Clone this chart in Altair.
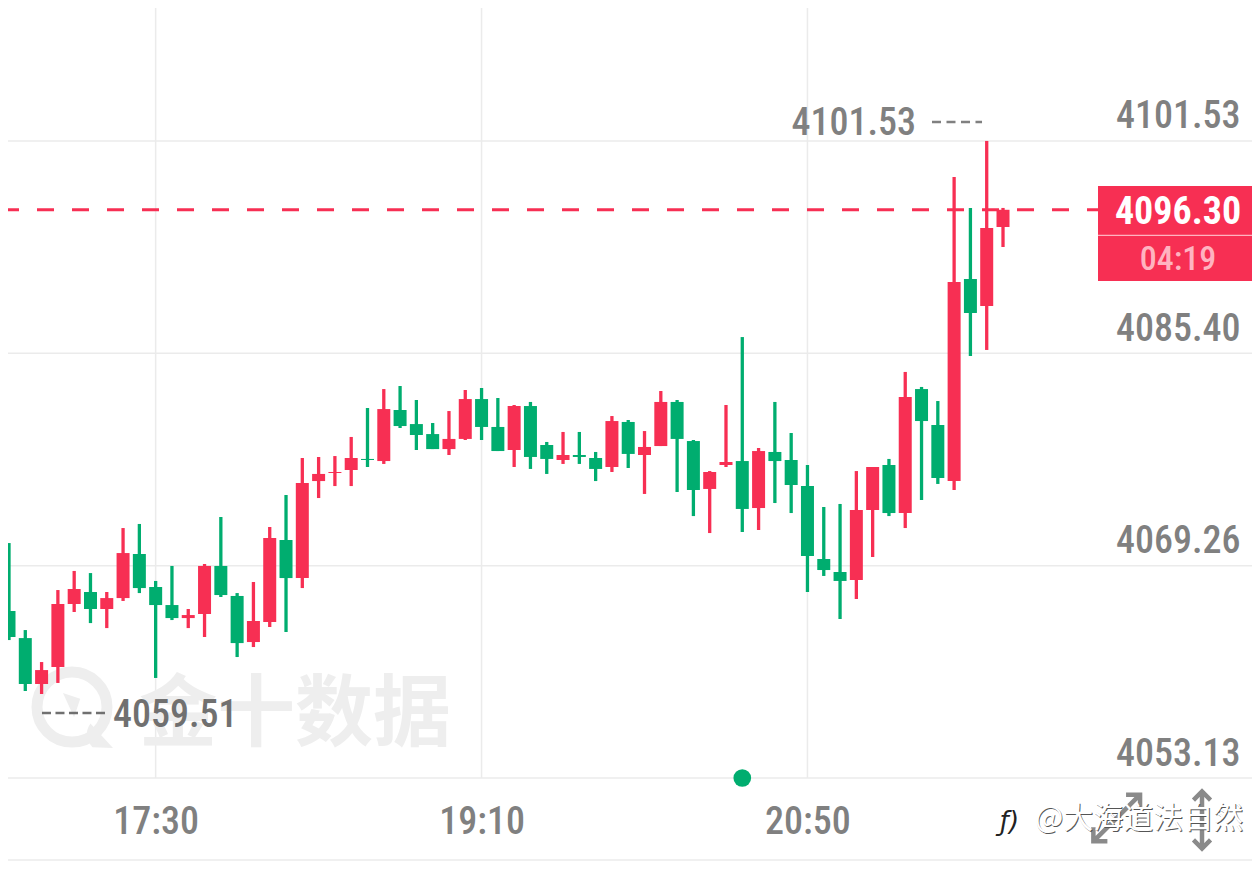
import altair as alt
import pandas as pd

open_ = [4065.82,4063.76,4060.27,4061.56,4066.35,4067.26,4065.97,4066.80,4070.15,4067.64,4066.27,4065.28,4065.59,4069.24,4066.96,4063.46,4064.98,4071.21,4068.32,4075.69,4076.30,4076.53,4077.37,4077.21,4081.09,4080.02,4079.26,4078.12,4078.89,4081.92,4079.80,4078.05,4081.39,4078.43,4077.29,4077.67,4077.44,4076.76,4080.18,4077.67,4078.35,4081.70,4078.73,4075.09,4076.91,4077.21,4073.64,4077.90,4077.29,4075.31,4069.77,4068.78,4068.17,4073.49,4076.91,4073.26,4082.68,4079.95,4075.69,4091.04,4088.99,4094.99]
high_ = [4070.98,4064.37,4061.94,4067.41,4068.86,4068.70,4067.26,4072.12,4072.43,4068.10,4069.24,4065.97,4069.39,4072.96,4067.18,4068.02,4072.20,4074.63,4077.44,4077.52,4077.59,4079.04,4081.24,4082.68,4082.91,4081.85,4080.10,4081.01,4082.61,4082.76,4082.00,4081.47,4081.70,4078.66,4079.42,4079.42,4077.90,4080.63,4080.33,4079.49,4082.53,4081.85,4078.81,4076.45,4081.47,4086.63,4078.20,4081.70,4079.34,4076.91,4073.72,4073.95,4076.45,4076.76,4077.37,4083.98,4082.84,4081.77,4098.79,4096.44,4101.53,4096.44]
low_ = [4063.61,4059.74,4059.51,4060.35,4065.74,4064.90,4064.52,4066.58,4067.18,4060.73,4065.13,4064.52,4063.84,4066.88,4062.32,4063.08,4064.60,4064.22,4067.56,4074.40,4075.31,4075.31,4076.76,4076.99,4079.72,4078.05,4078.12,4077.67,4078.81,4078.81,4077.97,4076.76,4076.61,4076.23,4076.99,4076.99,4075.69,4076.38,4076.68,4074.71,4078.35,4074.86,4073.03,4071.74,4076.76,4071.82,4071.97,4074.02,4073.26,4067.26,4068.48,4065.21,4066.73,4069.92,4073.03,4072.12,4074.25,4075.47,4075.01,4085.19,4085.65,4093.47]
close_ = [4063.84,4060.27,4061.33,4066.35,4067.49,4065.97,4066.80,4070.22,4067.56,4066.27,4065.28,4065.51,4069.24,4067.03,4063.38,4065.06,4071.36,4068.32,4075.54,4076.23,4076.38,4077.44,4077.29,4081.16,4079.87,4079.19,4078.12,4078.89,4081.92,4079.80,4077.97,4081.39,4077.52,4077.37,4077.67,4077.52,4076.61,4080.25,4077.75,4078.28,4081.70,4078.89,4075.01,4076.38,4077.14,4073.57,4077.97,4077.21,4075.39,4069.99,4068.93,4068.10,4073.49,4076.76,4073.26,4082.08,4080.25,4075.92,4090.81,4088.46,4094.92,4096.30]
first_minute = 1005  # 16:45, five-minute candles

y_ticks = [4101.53, 4085.40, 4069.26, 4053.13]
x_ticks = [1050, 1150, 1250]

RED = "#F72F53"
GREEN = "#00AD6F"
GRID = "#EBEBEB"
GREY = "#808080"
NARROW = "'Roboto Condensed','Open Sans Condensed','Liberation Sans Narrow',Roboto"
CJK = "Noto Sans CJK SC"
FS = 38
WT = 500

XMIN, XMAX = 1004.693, 1386.40
YMIN, YMAX = 4053.13, 4111.63
xs = alt.Scale(domain=[XMIN, XMAX], nice=False, zero=False, padding=0)
ys = alt.Scale(domain=[YMIN, YMAX], nice=False, zero=False, padding=0)

x_axis = alt.Axis(
    values=x_ticks, title=None, grid=False, ticks=False, domain=False,
    labelExpr="floor(datum.value/60)+':'+format(datum.value%60,'02d')",
    labelFont=NARROW, labelFontSize=FS, labelFontWeight=WT, labelColor=GREY, labelPadding=55,
    labelBaseline="alphabetic", labelFlush=False, labelBound=False, labelOverlap=False)
y_axis = alt.Axis(
    values=y_ticks, title=None, grid=False, ticks=False, domain=False, orient="left",
    offset=-1232, format=".2f", labelFont=NARROW, labelFontSize=FS, labelFontWeight=WT, labelColor=GREY,
    labelPadding=0, labelAlign="right", labelBaseline="alphabetic", labelOffset=-13,
    labelFlush=False, labelBound=False, labelOverlap=False)

candles = pd.DataFrame({"o": open_, "h": high_, "l": low_, "c": close_})
candles["t"] = [first_minute + 5 * i for i in range(len(candles))]
candles["top"] = candles[["o", "c"]].max(axis=1)
candles["bot"] = candles[["o", "c"]].min(axis=1)
candles["col"] = [RED if c >= o else GREEN for o, c in zip(open_, close_)]


def X(f="t"):
    return alt.X(f"{f}:Q", scale=xs, axis=x_axis)


def Y(f="p"):
    return alt.Y(f"{f}:Q", scale=ys, axis=y_axis)


def df(**k):
    return alt.Data(values=[k])


# horizontal rules
hgrid = alt.Chart(alt.Data(values=[{"p": p, "t": XMIN, "t2": XMAX} for p in y_ticks + [4046.90]])).mark_rule(
    color=GRID, strokeWidth=1.5
).encode(x=X(), x2="t2:Q", y=Y())

vgrid = alt.Chart(alt.Data(values=[{"t": t, "p": YMAX, "p2": YMIN} for t in x_ticks])).mark_rule(
    color=GRID, strokeWidth=1.5
).encode(x=X(), y=Y(), y2="p2:Q")

# watermark
logo_ring = alt.Chart(df(t=1024.33 - 0.0, p=4058.52)).mark_point(
    shape="circle", size=4900, filled=False, stroke="#EEEEEE", strokeWidth=11, opacity=1
).encode(x=X(), y=Y())
logo_tail = alt.Chart(df(t=1024.33, p=4058.52)).mark_point(
    shape="M-0.22,-0.34L0.2,-0.2L0.05,0.25ZM0.45,0.4L1,1L0.5,0.98Q0.25,0.7 0.45,0.4Z",
    size=6724, filled=True, fill="#EEEEEE", opacity=1
).encode(x=X(), y=Y())
logo_text = alt.Chart(df(t=1092.75, p=4056.01, s="金十数据")).mark_text(
    font=CJK, fontSize=78, fontWeight="bold", color="#EEEEEE", align="center", baseline="alphabetic"
).encode(x=X(), y=Y(), text="s:N")

# candles
wicks = alt.Chart(candles).mark_rule(strokeWidth=3.3).encode(
    x=X(), y=Y("h"), y2="l:Q", color=alt.Color("col:N", scale=None))
bodies = alt.Chart(candles).mark_bar(size=13).encode(
    x=X(), y=Y("top"), y2="bot:Q", color=alt.Color("col:N", scale=None))

# last price line + tag
last_line = alt.Chart(df(t=XMIN, t2=1339.15, p=4096.30)).mark_rule(
    color=RED, strokeWidth=3, strokeDash=[17, 18], strokeDashOffset=6
).encode(x=X(), x2="t2:Q", y=Y())
tag = alt.Chart(df(t=1339.15, t2=XMAX, p=4098.11, p2=4090.89)).mark_rect(color=RED).encode(
    x=X(), x2="t2:Q", y=Y(), y2="p2:Q")
tag_div = alt.Chart(df(t=1339.15, t2=XMAX, p=4094.35)).mark_rule(color="#FFB3C0", strokeWidth=1.2).encode(
    x=X(), x2="t2:Q", y=Y())
tag_price = alt.Chart(df(t=1363.7, p=4095.25, s="4096.30")).mark_text(
    font=NARROW, fontSize=FS, fontWeight="bold", color="#FFFFFF", align="center", baseline="alphabetic"
).encode(x=X(), y=Y(), text="s:N")
tag_time = alt.Chart(df(t=1363.7, p=4091.73, s="04:19")).mark_text(
    font=NARROW, fontSize=FS - 4, fontWeight=WT, color="#FFB3C0", align="center", baseline="alphabetic"
).encode(x=X(), y=Y(), text="s:N")

# extremes
hi_dash = alt.Chart(df(t=1288.21, t2=1303.56, p=4102.97)).mark_rule(
    color=GREY, strokeWidth=2.5, strokeDash=[9, 5.5]
).encode(x=X(), x2="t2:Q", y=Y())
hi_text = alt.Chart(df(t=1283.30, p=4101.98, s="4101.53")).mark_text(
    font=NARROW, fontSize=FS, fontWeight=WT, color=GREY, align="right", baseline="alphabetic"
).encode(x=X(), y=Y(), text="s:N")
lo_dash = alt.Chart(df(t=1015.12, t2=1034.45, p=4058.07)).mark_rule(
    color="#707070", strokeWidth=2.5, strokeDash=[9, 4.5]
).encode(x=X(), x2="t2:Q", y=Y())
lo_text = alt.Chart(df(t=1036.91, p=4057.00, s="4059.51")).mark_text(
    font=NARROW, fontSize=FS, fontWeight=WT, color="#707070", align="left", baseline="alphabetic"
).encode(x=X(), y=Y(), text="s:N")

# event dot
dot = alt.Chart(df(t=1230, p=YMIN)).mark_circle(size=314, color=GREEN, opacity=1).encode(x=X(), y=Y())

# resize arrows
arrow_shape = "M0,-1L0,1M-0.3,-0.7L0,-1L0.3,-0.7M-0.3,0.7L0,1L0.3,0.7"
arrow_d = alt.Chart(df(t=1344.89, p=4050.09)).mark_point(
    shape=arrow_shape, size=4356, angle=45, filled=False, stroke="#8A8A8A", strokeWidth=4.5, opacity=1
).encode(x=X(), y=Y())
arrow_v = alt.Chart(df(t=1371.06, p=4049.94)).mark_point(
    shape=arrow_shape, size=3249, filled=False, stroke="#8A8A8A", strokeWidth=4.5, opacity=1
).encode(x=X(), y=Y())

# repost credit
credit_shadow = alt.Chart(df(t=1319.81, p=4049.33, s="@大海道法自然")).mark_text(
    font=CJK, fontSize=30, color="#555555", align="left", baseline="alphabetic", dx=0.8, dy=0.8
).encode(x=X(), y=Y(), text="s:N")
credit = alt.Chart(df(t=1319.81, p=4049.33, s="@大海道法自然")).mark_text(
    font=CJK, fontSize=30, color="#FFFFFF", align="left", baseline="alphabetic"
).encode(x=X(), y=Y(), text="s:N")
f_mark = alt.Chart(df(t=1309.0, p=4049.2, s="ƒ)")).mark_text(
    font="DejaVu Sans", fontSize=26, fontStyle="italic", color="#222222", align="left", baseline="alphabetic"
).encode(x=X(), y=Y(), text="s:N")

chart = alt.layer(
    hgrid, vgrid, logo_ring, logo_tail, logo_text, wicks, bodies, last_line, tag, tag_div,
    tag_price, tag_time, hi_dash, hi_text, lo_dash, lo_text, dot, arrow_d, arrow_v,
    credit_shadow, credit, f_mark,
).properties(
    width=1244, height=770,
    autosize=alt.AutoSizeParams(type="none"),
    padding={"left": 0, "top": 0, "right": 0, "bottom": 83},
    background="#FFFFFF",
).configure_view(stroke=None)

chart.save("out.html", embed_options={"renderer": "svg", "actions": False})
